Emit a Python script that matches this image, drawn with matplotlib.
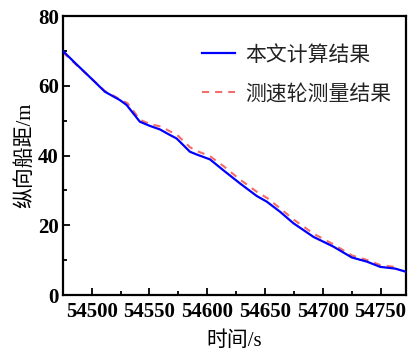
import numpy as np
import matplotlib
matplotlib.use("Agg")
import matplotlib.pyplot as plt
from matplotlib.ticker import MultipleLocator

plt.rcParams['font.family'] = ['Liberation Serif', 'Noto Sans CJK SC']

# time (s) and longitudinal distance (m), computed result
t_calc = [54475, 54487, 54499, 54511.4, 54524.4, 54530.2, 54541.7, 54550.4,
          54559, 54567.7, 54573.5, 54585, 54590.9, 54602.4, 54613.9, 54628.4,
          54642.9, 54651.5, 54663, 54674.6, 54691.9, 54709.2, 54725.1, 54738.2,
          54749.7, 54762.7, 54772]
d_calc = [70.0, 66.1, 62.3, 58.3, 55.9, 54.5, 49.7, 48.5,
          47.5, 45.9, 44.9, 41.1, 40.3, 38.9, 35.8, 32.0,
          28.4, 26.8, 23.9, 20.6, 16.7, 13.9, 10.8, 9.6,
          8.1, 7.6, 6.7]

# wheel-speed measurement
t_meas = [54475, 54487, 54499, 54511, 54524, 54531, 54542, 54551,
          54560, 54568, 54574, 54585, 54591, 54602, 54614, 54628,
          54643, 54652, 54663, 54675, 54692, 54709, 54725, 54738,
          54750, 54764]
d_meas = [69.6, 65.9, 62.3, 58.6, 56.2, 55.0, 50.2, 49.0,
          48.3, 46.9, 45.9, 42.4, 41.3, 39.9, 37.0, 33.2,
          29.6, 27.8, 24.9, 21.6, 17.6, 14.6, 11.4, 10.1,
          8.6, 8.0]

fig = plt.figure(figsize=(4.08, 3.56), dpi=100)
ax = fig.add_axes([0.154, 0.171, 0.841, 0.784])

ax.plot(t_calc, d_calc, color='#0000ff', lw=1.6, label='本文计算结果', zorder=3)
ax.plot(t_meas, d_meas, color='#f04848', lw=1.5, alpha=0.8,
        dashes=(3.4, 2.9), label='测速轮测量结果', zorder=2)

ax.set_xlim(54475, 54772)
ax.set_ylim(0, 80)
ax.xaxis.set_major_locator(MultipleLocator(50))
ax.xaxis.set_minor_locator(MultipleLocator(25))
ax.yaxis.set_major_locator(MultipleLocator(20))
ax.yaxis.set_minor_locator(MultipleLocator(10))
ax.tick_params(which='both', direction='in', width=1.3, labelsize=15)
ax.tick_params(axis='x', pad=5)
ax.tick_params(axis='y', pad=3)
ax.tick_params(which='major', length=5)
ax.tick_params(which='minor', length=3)
for lab in ax.get_xticklabels() + ax.get_yticklabels():
    lab.set_fontweight('bold')
for sp in ax.spines.values():
    sp.set_linewidth(1.6)

ax.set_xlabel('时间/s', fontsize=15, labelpad=7, fontweight='light')
ax.set_ylabel('纵向船距/m', fontsize=15, labelpad=2, fontweight='light')

leg = ax.legend(loc='upper right', bbox_to_anchor=(1.0, 0.946), frameon=False,
                fontsize=15, handlelength=1.6, handletextpad=0.5,
                labelspacing=0.9, borderaxespad=0.3,
                prop={'size': 15, 'weight': 'light'})
for txt in leg.get_texts():
    txt.set_color('#222222')

fig.savefig('out.png', dpi=100)
